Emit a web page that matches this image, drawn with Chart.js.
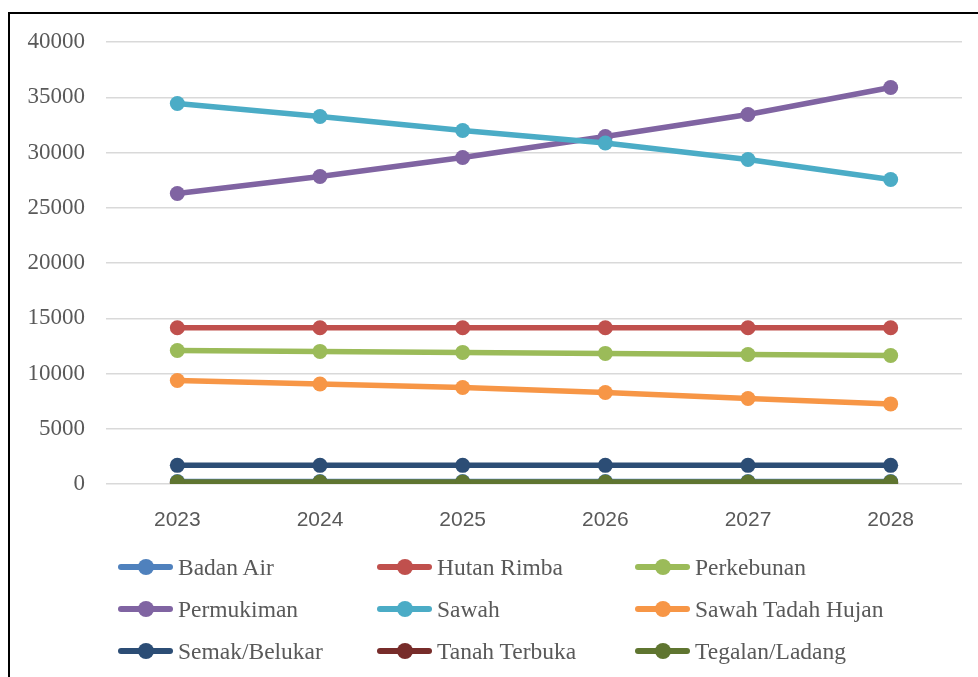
<!DOCTYPE html>
<html>
<head>
<meta charset="utf-8">
<script src="https://cdn.jsdelivr.net/npm/chart.js@4/dist/chart.umd.min.js"></script>
<style>
    html, body { margin: 0; padding: 0; background: #fff; }
    #wrap { position: relative; width: 978px; height: 677px; overflow: hidden; }
    #frame { position: absolute; left: 8px; top: 12px; width: 1000px; height: 700px;
             border-left: 2px solid #000; border-top: 2px solid #000; box-sizing: border-box; }
    #chartBox { position: absolute; left: 0; top: 0; width: 978px; height: 540px; }
    #legend { position: absolute; left: 0; top: 0; width: 978px; height: 677px; pointer-events: none;
              font-family: "Liberation Serif", "Times New Roman", serif; font-size: 23.5px; color: #595959; }
    .item { position: absolute; display: flex; align-items: center; height: 30px; white-space: nowrap; }
    .mark { position: relative; width: 55px; height: 6px; border-radius: 3px; margin-right: 5px; }
    .mark::after { content: ""; position: absolute; left: 20px; top: -5px; width: 16px; height: 16px;
                   border-radius: 50%; background: inherit; }
</style>
</head>
<body>
<div id="wrap">
    <div id="frame"></div>
    <div id="chartBox"><canvas id="landChart"></canvas></div>
    <div id="legend"></div>
</div>
<script>
const years = ["2023", "2024", "2025", "2026", "2027", "2028"];
const yTicks = [0, 5000, 10000, 15000, 20000, 25000, 30000, 35000, 40000];

const seriesNames = ["Badan Air", "Hutan Rimba", "Perkebunan", "Permukiman", "Sawah",
    "Sawah Tadah Hujan", "Semak/Belukar", "Tanah Terbuka", "Tegalan/Ladang"];
const seriesColors = ["#4F81BD", "#C0504D", "#9BBB59", "#8064A2", "#4BACC6",
    "#F79646", "#2C4D75", "#772C2A", "#5F7530"];

const badanAir = [220, 220, 220, 220, 220, 220];
const hutanRimba = [14140, 14140, 14140, 14140, 14140, 14140];
const perkebunan = [12080, 12000, 11910, 11820, 11720, 11630];
const permukiman = [26290, 27830, 29550, 31450, 33440, 35880];
const sawah = [34430, 33260, 31990, 30860, 29370, 27560];
const sawahTadahHujan = [9370, 9050, 8730, 8280, 7740, 7250];
const semakBelukar = [1690, 1690, 1690, 1690, 1690, 1690];
const tanahTerbuka = [110, 110, 110, 110, 110, 110];
const tegalanLadang = [170, 170, 170, 170, 170, 170];

const seriesValues = [badanAir, hutanRimba, perkebunan, permukiman, sawah,
    sawahTadahHujan, semakBelukar, tanahTerbuka, tegalanLadang];

// Legend Build (3 columns, like the Excel original)
function buildLegend() {
    const legend = document.getElementById("legend");
    const colX = [118, 377, 635];
    const rowY = [567, 609, 651];
    legend.innerHTML = seriesNames.map((name, i) => `
        <div class="item" style="left:${colX[i % 3]}px; top:${rowY[Math.floor(i / 3)] - 15}px">
            <span class="mark" style="background:${seriesColors[i]}"></span>${name}
        </div>
    `).join("");
}

function initChart() {
    const ctx = document.getElementById("landChart").getContext("2d");
    new Chart(ctx, {
        type: "line",
        data: {
            labels: years,
            datasets: seriesNames.map((name, i) => ({
                label: name,
                data: seriesValues[i],
                borderColor: seriesColors[i],
                backgroundColor: seriesColors[i],
                borderWidth: 5.5,
                pointRadius: 7.5,
                pointBorderWidth: 0,
                pointBackgroundColor: seriesColors[i],
                tension: 0,
                order: seriesNames.length - 1 - i
            }))
        },
        options: {
            responsive: true,
            maintainAspectRatio: false,
            animation: false,
            layout: { padding: { left: 0, right: 16, top: 42, bottom: 6 } },
            plugins: { legend: { display: false }, tooltip: { enabled: false } },
            scales: {
                x: {
                    offset: true,
                    grid: { display: false },
                    border: { display: false },
                    ticks: { color: "#595959", padding: 16, font: { family: "Liberation Sans", size: 21 } },
                    afterFit: (scale) => { scale.height = 50; }
                },
                y: {
                    min: 0,
                    max: 40000,
                    afterBuildTicks: (scale) => { scale.ticks = yTicks.map(v => ({ value: v })); },
                    grid: { color: "#d9d9d9", lineWidth: 1.5, drawTicks: false },
                    border: { display: false },
                    ticks: {
                        color: "#595959", padding: 21,
                        font: { family: "Liberation Serif", size: 23 },
                        callback: (v) => String(v)
                    },
                    afterFit: (scale) => { scale.width = 106; }
                }
            }
        }
    });
}

buildLegend();
initChart();
</script>
</body>
</html>
